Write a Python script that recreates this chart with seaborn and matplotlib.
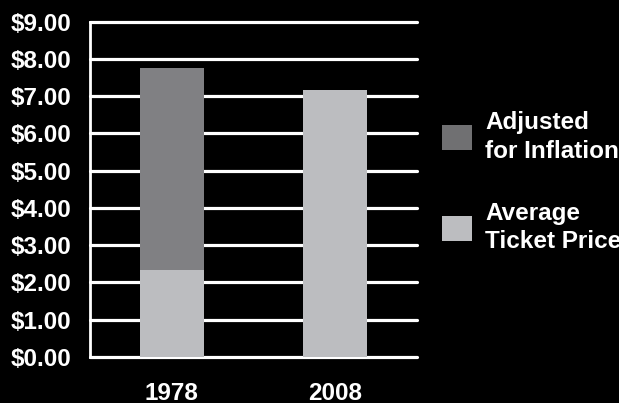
import matplotlib
matplotlib.use("Agg")
import matplotlib.pyplot as plt
import matplotlib.patches as mpatches
import seaborn as sns
import pandas as pd

years = ["1978", "2008"]
adjusted_for_inflation = [7.75, 7.18]
average_ticket_price = [2.34, 7.18]
yticks = [0, 1, 2, 3, 4, 5, 6, 7, 8, 9]
ytick_labels = ["$0.00", "$1.00", "$2.00", "$3.00", "$4.00", "$5.00",
                "$6.00", "$7.00", "$8.00", "$9.00"]
legend_labels = ["Adjusted\nfor Inflation", "Average\nTicket Price"]

dark = "#808083"
light = "#bcbdc0"
FS = 17.5

sns.set_theme(style="dark")
plt.rcParams["font.family"] = ["Liberation Sans", "DejaVu Sans"]

df = pd.DataFrame({"year": years, "adjusted": adjusted_for_inflation,
                   "average": average_ticket_price})

fig = plt.figure(figsize=(6.19, 4.03), dpi=100, facecolor="black")
W, H = 619, 403
ax = fig.add_axes([90 / W, (H - 357) / H, (417 - 90) / W, (357 - 21.7) / H])
ax.set_facecolor("black")

sns.barplot(data=df, x="year", y="adjusted", color=dark, width=0.39,
            saturation=1, ax=ax, zorder=3, linewidth=0, edgecolor="none")
sns.barplot(data=df, x="year", y="average", color=light, width=0.39,
            saturation=1, ax=ax, zorder=3, linewidth=0, edgecolor="none")

ax.set_xlim(-0.5, 1.5)
ax.set_ylim(0, 9)
ax.set_yticks(yticks)
ax.set_yticklabels(ytick_labels)
ax.set_xlabel("")
ax.set_ylabel("")

ax.grid(False)
for v in yticks:
    ax.axhline(v, color="white", lw=2.3, zorder=2, clip_on=False)

for s in ["top", "right", "bottom"]:
    ax.spines[s].set_visible(False)
ax.spines["left"].set_color("white")
ax.spines["left"].set_linewidth(2.0)
ax.spines["left"].set_zorder(2)

ax.tick_params(axis="y", colors="white", length=6, width=2.3, pad=7.5,
               labelsize=FS)
ax.tick_params(axis="x", length=0, pad=18, labelcolor="white", labelsize=FS)
for lab in ax.get_yticklabels() + ax.get_xticklabels():
    lab.set_fontweight("bold")
    lab.set_color("white")

handles = [mpatches.Patch(color="#707072", linewidth=0),
           mpatches.Patch(color=light, linewidth=0)]
leg = fig.legend(handles, legend_labels, loc="upper left",
                 bbox_to_anchor=(423 / W, (H - 92) / H),
                 frameon=False, handlelength=1.2, handleheight=1.2,
                 handletextpad=0.55, labelspacing=1.6, borderpad=0.3,
                 prop={"weight": "bold", "size": FS})
for t in leg.get_texts():
    t.set_color("white")
    t.set_linespacing(1.3)

fig.savefig("out.png", dpi=100, facecolor="black")
